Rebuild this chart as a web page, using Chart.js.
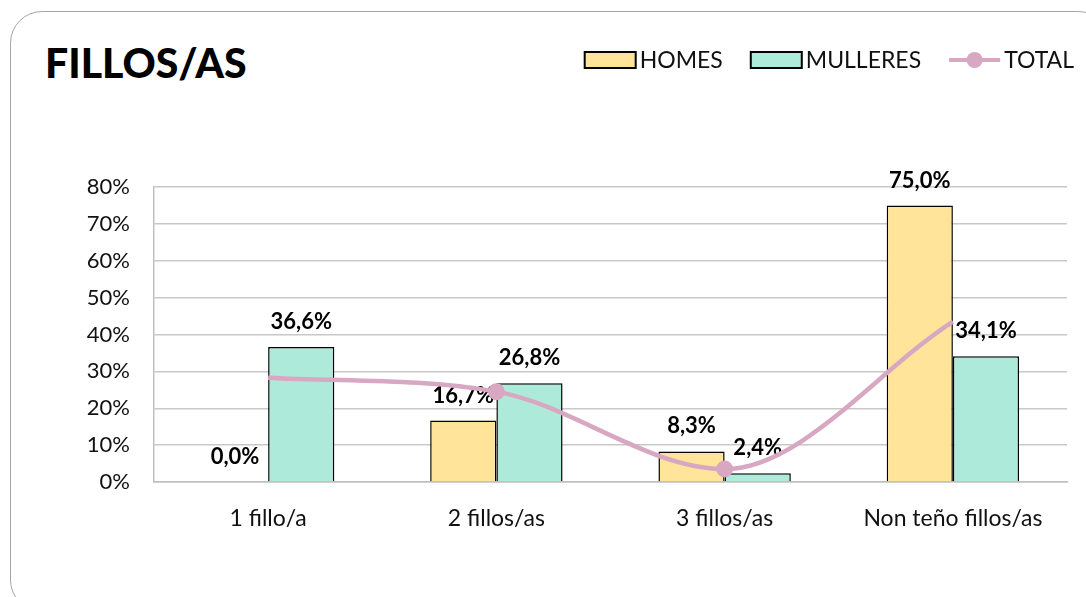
<!DOCTYPE html>
<html lang="gl">
  <head>
    <meta charset="UTF-8" />
    <title>Fillos/as</title>
    <script src="https://cdn.jsdelivr.net/npm/chart.js@4"></script>
    <style>
      html, body { margin: 0; padding: 0; background: #fff; overflow: hidden; }
      #wrap { position: relative; width: 1086px; height: 597px; }
      #frame {
        position: absolute; left: 10px; top: 11px; width: 1100px; height: 601px;
        border: 1.5px solid #a6a6a6; border-radius: 32px; box-sizing: border-box;
      }
      #title {
        position: absolute; left: 45px; top: 37px; margin: 0;
        font: 900 41px Lato, sans-serif; color: #000; line-height: 52px;
      }
      canvas { position: absolute; left: 0; top: 0; }
    </style>
  </head>
  <body>
    <div id="wrap">
      <div id="frame"></div>
      <h1 id="title">FILLOS/AS</h1>
      <canvas id="Graph" width="1086" height="597"></canvas>
    </div>

    <script>
      const categories = ['1 fillo/a', '2 fillos/as', '3 fillos/as', 'Non teño fillos/as'];
      const homes = [0.0, 16.7, 8.3, 75.0];
      const mulleres = [36.6, 26.8, 2.4, 34.1];
      const total = [28.3, 24.5, 3.5, 43.5];
      const yTicks = [0, 10, 20, 30, 40, 50, 60, 70, 80];

      const yellow = '#FFE499';
      const teal = '#ADEADA';
      const pink = '#D8A7C1';
      const fontName = 'Lato, sans-serif';

      const fmt = v => v.toFixed(1).replace('.', ',') + '%';

      // value labels above the bars, drawn before the line so the markers sit on top
      const barLabels = {
        id: 'barLabels',
        afterDatasetDraw(chart, args) {
          const ds = chart.data.datasets[args.index];
          if (ds.type === 'line') return;
          const ctx = chart.ctx;
          ctx.save();
          ctx.font = 'bold 22px ' + fontName;
          ctx.fillStyle = '#000';
          ctx.textAlign = 'center';
          ctx.textBaseline = 'middle';
          args.meta.data.forEach((bar, i) => {
            ctx.fillText(fmt(ds.data[i]), bar.x, bar.y - 25);
          });
          ctx.restore();
        }
      };

      // legend in the top right corner
      const cornerLegend = {
        id: 'cornerLegend',
        afterDraw(chart) {
          const ctx = chart.ctx;
          ctx.save();
          ctx.font = '23px ' + fontName;
          ctx.textBaseline = 'middle';
          const items = [
            { text: 'HOMES', kind: 'box', color: yellow },
            { text: 'MULLERES', kind: 'box', color: teal },
            { text: 'TOTAL', kind: 'line', color: pink }
          ];
          const symW = 51, gapSym = 4, gapItem = 28, y = 60;
          let width = 0;
          items.forEach((it, i) => {
            it.w = ctx.measureText(it.text).width;
            width += symW + gapSym + it.w + (i ? gapItem : 0);
          });
          let x = 1074 - width;
          items.forEach(it => {
            if (it.kind === 'box') {
              ctx.fillStyle = it.color;
              ctx.fillRect(x, y - 8, symW, 16);
              ctx.lineWidth = 2;
              ctx.strokeStyle = '#000';
              ctx.strokeRect(x, y - 8, symW, 16);
            } else {
              ctx.strokeStyle = it.color;
              ctx.lineWidth = 4;
              ctx.beginPath();
              ctx.moveTo(x, y);
              ctx.lineTo(x + symW, y);
              ctx.stroke();
              ctx.fillStyle = it.color;
              ctx.beginPath();
              ctx.arc(x + symW / 2, y, 8, 0, Math.PI * 2);
              ctx.fill();
            }
            ctx.fillStyle = '#111';
            ctx.fillText(it.text, x + symW + gapSym, y + 1);
            x += symW + gapSym + it.w + gapItem;
          });
          ctx.restore();
        }
      };

      const element = document.getElementById('Graph').getContext('2d');
      const Graph = new Chart(element, {
        data: {
          labels: categories,
          datasets: [
            {
              type: 'line',
              label: 'TOTAL',
              data: total,
              borderColor: pink,
              backgroundColor: pink,
              borderWidth: 4.5,
              cubicInterpolationMode: 'monotone',
              pointRadius: [0, 8.5, 8.5, 0],
              pointBorderWidth: 0,
              pointBackgroundColor: pink,
              order: 0
            },
            {
              type: 'bar',
              label: 'HOMES',
              data: homes,
              backgroundColor: yellow,
              borderColor: '#000',
              borderWidth: 1.5,
              categoryPercentage: 0.58,
              barPercentage: 1,
              order: 1
            },
            {
              type: 'bar',
              label: 'MULLERES',
              data: mulleres,
              backgroundColor: teal,
              borderColor: '#000',
              borderWidth: 1.5,
              categoryPercentage: 0.58,
              barPercentage: 1,
              order: 1
            }
          ]
        },
        options: {
          responsive: false,
          animation: false,
          layout: { padding: { top: 187, right: 19, left: 0, bottom: 0 } },
          plugins: {
            legend: { display: false },
            tooltip: { enabled: false }
          },
          scales: {
            x: {
              grid: { display: false, drawTicks: false },
              border: { color: '#bfbfbf', width: 1.5 },
              ticks: { color: '#111', font: { family: fontName, size: 23 }, padding: 23 },
              afterFit: s => { s.height = 115; }
            },
            y: {
              min: 0,
              max: 80,
              afterBuildTicks: s => { s.ticks = yTicks.map(v => ({ value: v })); },
              grid: { color: '#c8c8c8', lineWidth: 1.5, drawTicks: false },
              border: { color: '#bfbfbf', width: 1.5 },
              ticks: {
                color: '#111',
                font: { family: fontName, size: 22 },
                padding: 24,
                callback: v => v + '%'
              },
              afterFit: s => { s.width = 154; }
            }
          }
        },
        plugins: [barLabels, cornerLegend]
      });
    </script>
  </body>
</html>
